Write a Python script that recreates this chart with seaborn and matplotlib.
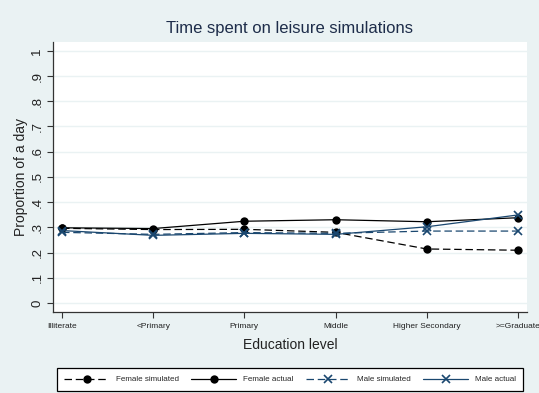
import matplotlib
matplotlib.use("Agg")
import matplotlib.pyplot as plt
import seaborn as sns
import pandas as pd
import numpy as np

categories = ["Illiterate", "<Primary", "Primary", "Middle", "Higher Secondary", ">=Graduate"]
female_simulated = [0.296, 0.291, 0.292, 0.280, 0.214, 0.209]
female_actual = [0.298, 0.295, 0.324, 0.330, 0.322, 0.338]
male_simulated = [0.280, 0.272, 0.279, 0.276, 0.285, 0.285]
male_actual = [0.287, 0.268, 0.276, 0.272, 0.302, 0.349]
yticks = [0, .1, .2, .3, .4, .5, .6, .7, .8, .9, 1]
ytick_labels = ["0", ".1", ".2", ".3", ".4", ".5", ".6", ".7", ".8", ".9", "1"]

sns.set_theme(style="white")
plt.rcParams['font.family'] = ['Liberation Sans', 'DejaVu Sans']

BG = "#EAF2F3"
NAVY = "#1a476f"

fig = plt.figure(figsize=(5.39, 3.93), dpi=100, facecolor=BG)
ax = fig.add_axes([53/539, 1 - 312/393, (527-53)/539, (312-42)/393])
ax.set_facecolor("white")

x = np.arange(len(categories))
series = [
    ("Female simulated", female_simulated, "black", (0, (6, 3)), "o"),
    ("Female actual", female_actual, "black", "-", "o"),
    ("Male simulated", male_simulated, NAVY, (0, (6, 3)), "x"),
    ("Male actual", male_actual, NAVY, "-", "x"),
]
handles = []
for name, vals, col, ls, mk in series:
    df = pd.DataFrame({"x": x, "y": vals})
    sns.lineplot(data=df, x="x", y="y", ax=ax, color=col, linestyle=ls,
                 marker=mk, markersize=6,
                 markeredgewidth=0 if mk == "o" else 1.2,
                 markeredgecolor=col, linewidth=0.9, label=name, legend=False)
    handles.append(ax.lines[-1])

ax.set_xlim(-9/91.2, 5 + 9/91.2)
ax.set_ylim(-0.036, 1.035)
ax.set_yticks(yticks)
ax.set_yticklabels(ytick_labels, rotation=90, va="center", fontsize=9.5, color="#222222")
ax.set_xticks(x)
ax.set_xticklabels(categories, fontsize=6, color="#222222")
for yv in yticks:
    ax.axhline(yv, color=BG, linewidth=1, zorder=0)
ax.tick_params(axis="both", which="both", direction="out", length=4, width=0.8,
               color="#333333", left=True, bottom=True)
ax.tick_params(axis="x", pad=4)
ax.tick_params(axis="y", pad=3)
for s in ["top", "right"]:
    ax.spines[s].set_visible(False)
for s in ["left", "bottom"]:
    ax.spines[s].set_color("#333333")
    ax.spines[s].set_linewidth(0.9)

ax.set_xlabel("Education level", fontsize=10, color="#222222", labelpad=6)
ax.set_ylabel("Proportion of a day", fontsize=10, color="#222222", labelpad=2)
fig.text(290/539, 1 - 29/393, "Time spent on leisure simulations", ha="center", va="center",
         fontsize=12, color="#1e2d4a")

leg = fig.legend(handles=handles, labels=[s[0] for s in series], loc="center",
                 bbox_to_anchor=(290/539, 1 - 379.5/393), ncol=4, fontsize=5.8,
                 frameon=True, fancybox=False, edgecolor="black", framealpha=1,
                 handlelength=5.5, numpoints=1, columnspacing=1.6, borderpad=0.95,
                 handletextpad=0.85, borderaxespad=0)
leg.get_frame().set_linewidth(0.9)

fig.savefig("out.png", dpi=100, facecolor=BG)
